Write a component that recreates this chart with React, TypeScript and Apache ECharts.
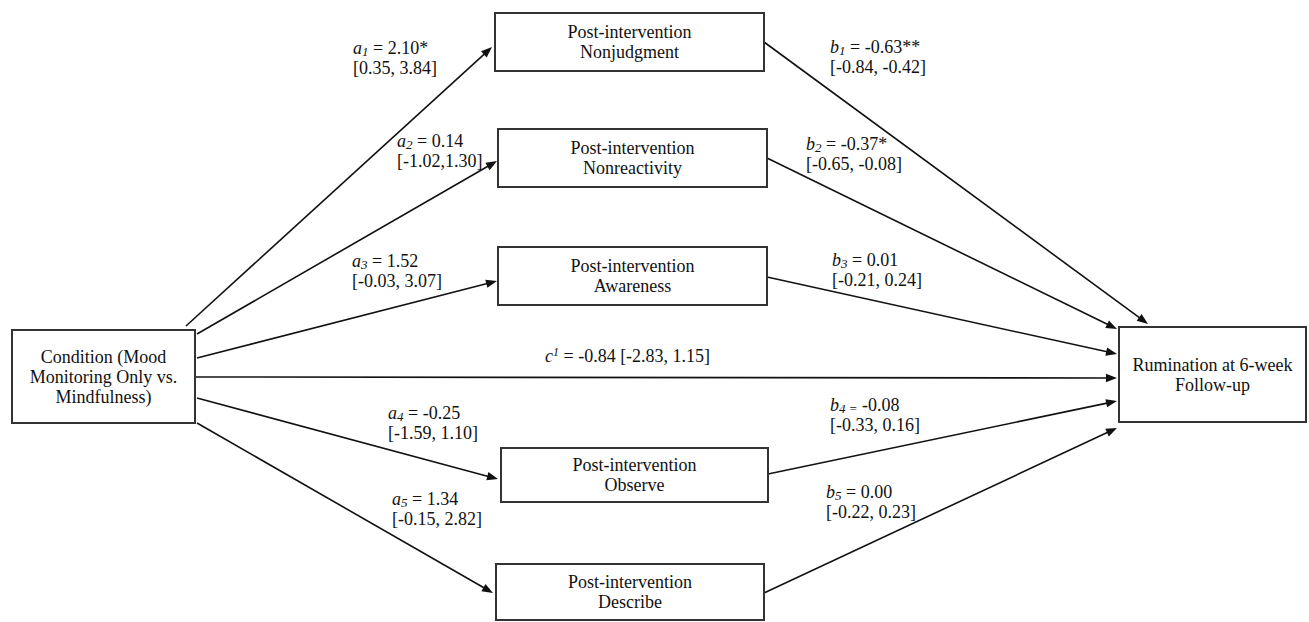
import { useEffect, useRef } from "react";
import * as echarts from "echarts";

const CANVAS_W = 1309;
const CANVAS_H = 622;

// ---- node content ----
const nodeLines: string[][] = [
  ["Condition (Mood", "Monitoring Only vs.", "Mindfulness)"],
  ["Post-intervention", "Nonjudgment"],
  ["Post-intervention", "Nonreactivity"],
  ["Post-intervention", "Awareness"],
  ["Post-intervention", "Observe"],
  ["Post-intervention", "Describe"],
  ["Rumination at 6-week", "Follow-up"],
];

// ---- path coefficients ----
const pathLetters = ["a", "a", "a", "a", "a", "b", "b", "b", "b", "b", "c"];
const pathIndex = ["1", "2", "3", "4", "5", "1", "2", "3", "4", "5", "1"];
const estimates = ["2.10*", "0.14", "1.52", "-0.25", "1.34", "-0.63**", "-0.37*", "0.01", "-0.08", "0.00", "-0.84"];
const intervals = [
  "[0.35, 3.84]",
  "[-1.02,1.30]",
  "[-0.03, 3.07]",
  "[-1.59, 1.10]",
  "[-0.15, 2.82]",
  "[-0.84, -0.42]",
  "[-0.65, -0.08]",
  "[-0.21, 0.24]",
  "[-0.33, 0.16]",
  "[-0.22, 0.23]",
  "[-2.83, 1.15]",
];

// ---- layout (diagram coordinates) ----
const nodeBoxes: number[][] = [
  [12, 330, 195, 423],
  [495, 13, 764, 71],
  [498, 129, 767, 187],
  [498, 247, 767, 305],
  [501, 448, 768, 502],
  [496, 564, 764, 620],
  [1119, 327, 1306, 422],
];
const arrowStarts: number[][] = [
  [186, 326], [197, 334], [197, 358], [197, 398], [197, 423],
  [764, 42], [767, 158], [767, 277], [768, 474], [764, 593],
  [195, 377],
];
const arrowEnds: number[][] = [
  [492, 47], [497, 161], [497, 281], [498, 479], [493, 593],
  [1148, 324], [1117, 329], [1117, 354], [1117, 401], [1117, 428],
  [1117, 378],
];
const labelPos: number[][] = [
  [353, 48], [397, 141], [352, 261], [388, 413], [392, 499],
  [830, 47], [806, 144], [832, 260], [830, 405], [826, 492],
  [545, 356],
];

const FONT = '"Times New Roman", "Liberation Serif", serif';
const INK = "#111";

export default function App() {
  const ref = useRef<HTMLDivElement>(null);

  useEffect(() => {
    document.body.style.margin = "0";
    if (!ref.current) return;
    const chart = echarts.init(ref.current, undefined, { renderer: "svg" });

    const rich = {
      i: { fontStyle: "italic", fontSize: 18, fontFamily: FONT, lineHeight: 20, fill: INK },
      s: { fontStyle: "italic", fontSize: 13, fontFamily: FONT, lineHeight: 13, verticalAlign: "bottom", fill: INK },
      p: { fontStyle: "italic", fontSize: 12, fontFamily: FONT, lineHeight: 12, verticalAlign: "top", fill: INK },
      n: { fontSize: 18, fontFamily: FONT, lineHeight: 20, fill: INK },
    };

    const labelText = (k: number) => {
      const letter = pathLetters[k];
      if (letter === "c") {
        return `{i|c}{p|${pathIndex[k]}}{n| = ${estimates[k]} ${intervals[k]}}`;
      }
      if (k === 8) {
        return `{i|${letter}}{s|${pathIndex[k]} =}{n| ${estimates[k]}}\n{n|${intervals[k]}}`;
      }
      return `{i|${letter}}{s|${pathIndex[k]}}{n| = ${estimates[k]}}\n{n|${intervals[k]}}`;
    };

    const option: any = {
      animation: false,
      backgroundColor: "#fff",
      grid: { left: 0, right: 0, top: 0, bottom: 0, containLabel: false },
      xAxis: { type: "value", min: 0, max: CANVAS_W, show: false },
      yAxis: { type: "value", min: 0, max: CANVAS_H, inverse: true, show: false },
      series: [
        {
          type: "custom",
          name: "paths",
          coordinateSystem: "cartesian2d",
          silent: true,
          data: arrowStarts.map((s, k) => [s[0], s[1], k]),
          renderItem: (params: any, api: any) => {
            const k = params.dataIndex;
            const [sx, sy] = api.coord(arrowStarts[k]);
            const [ex, ey] = api.coord(arrowEnds[k]);
            const dx = ex - sx;
            const dy = ey - sy;
            const len = Math.hypot(dx, dy);
            const ux = dx / len;
            const uy = dy / len;
            const L = 11;
            const hw = 4.2;
            const bx = ex - ux * L;
            const by = ey - uy * L;
            const px = -uy;
            const py = ux;
            return {
              type: "group",
              children: [
                {
                  type: "line",
                  shape: { x1: sx, y1: sy, x2: bx + ux * 2, y2: by + uy * 2 },
                  style: { stroke: INK, lineWidth: 1.6 },
                },
                {
                  type: "polygon",
                  shape: {
                    points: [
                      [ex, ey],
                      [bx + px * hw, by + py * hw],
                      [bx - px * hw, by - py * hw],
                    ],
                  },
                  style: { fill: INK },
                },
              ],
            };
          },
        },
        {
          type: "custom",
          name: "boxes",
          coordinateSystem: "cartesian2d",
          silent: true,
          data: nodeBoxes.map((b, k) => [b[0], b[1], k]),
          renderItem: (params: any, api: any) => {
            const k = params.dataIndex;
            const b = nodeBoxes[k];
            const [x0, y0] = api.coord([b[0], b[1]]);
            const [x1, y1] = api.coord([b[2], b[3]]);
            return {
              type: "group",
              children: [
                {
                  type: "rect",
                  shape: { x: x0, y: y0, width: x1 - x0, height: y1 - y0 },
                  style: { fill: "#fff", stroke: "#333", lineWidth: 2 },
                },
                {
                  type: "text",
                  x: (x0 + x1) / 2,
                  y: (y0 + y1) / 2,
                  style: {
                    text: nodeLines[k].join("\n"),
                    fontSize: 18,
                    fontFamily: FONT,
                    lineHeight: 20,
                    fill: INK,
                    align: "center",
                    verticalAlign: "middle",
                  },
                },
              ],
            };
          },
        },
        {
          type: "custom",
          name: "labels",
          coordinateSystem: "cartesian2d",
          silent: true,
          data: labelPos.map((p, k) => [p[0], p[1], k]),
          renderItem: (params: any, api: any) => {
            const k = params.dataIndex;
            const [x, y] = api.coord(labelPos[k]);
            return {
              type: "text",
              x,
              y: y - 10,
              style: {
                text: labelText(k),
                rich,
                fontSize: 18,
                fontFamily: FONT,
                lineHeight: 20,
                fill: INK,
                align: "left",
                verticalAlign: "top",
              },
            };
          },
        },
      ],
    };

    chart.setOption(option);
    return () => chart.dispose();
  }, []);

  return (
    <div
      ref={ref}
      style={{ width: CANVAS_W, height: CANVAS_H, background: "#fff" }}
    />
  );
}
